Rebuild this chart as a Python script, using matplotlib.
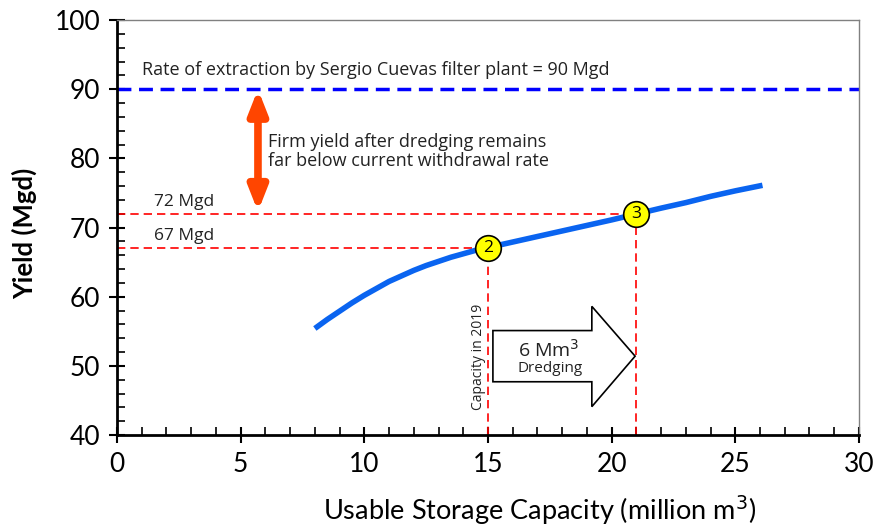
import matplotlib
matplotlib.use("Agg")
import matplotlib.pyplot as plt
from matplotlib.patches import Polygon
from matplotlib.ticker import MultipleLocator

# yield curve
storage = [8, 8.5, 9, 9.5, 10, 10.5, 11, 11.5, 12, 12.5, 13, 13.5, 14, 14.5, 15,
           16, 17, 18, 19, 20, 21, 22, 23, 24, 25, 26.1]
yield_mgd = [55.4, 56.7, 57.9, 59.1, 60.2, 61.2, 62.2, 63.0, 63.8, 64.5, 65.1, 65.7, 66.2, 66.7, 67.1,
             67.9, 68.7, 69.5, 70.3, 71.1, 71.95, 72.8, 73.6, 74.5, 75.3, 76.1]

points_x = [15, 21]
points_y = [67, 72]
point_labels = ["2", "3"]

extraction_rate = 90

plt.rcParams['font.family'] = ['Lato', 'DejaVu Sans']
note_font = ['Open Sans', 'DejaVu Sans']
text_color = '#222222'

fig = plt.figure(figsize=(8.77, 5.25), dpi=100)
ax = fig.add_axes([0.1334, 0.1714, 0.846, 0.7905])

ax.set_xlim(0, 30)
ax.set_ylim(40, 100)

# extraction rate line
ax.axhline(extraction_rate, color='#0000ff', lw=2.5, ls=(0, (4, 2.2)), zorder=2)
ax.text(1, extraction_rate + 1.4, "Rate of extraction by Sergio Cuevas filter plant = 90 Mgd",
        fontsize=13, family=note_font, color=text_color, va='bottom')

# red reference lines
for px, py in zip(points_x, points_y):
    ax.plot([0, px], [py, py], color='red', lw=1.2, ls=(0, (5, 3)), zorder=2)
    ax.plot([px, px], [40, py], color='red', lw=1.2, ls=(0, (5, 3)), zorder=2)
ax.text(1.5, points_y[1] + 0.6, "72 Mgd", fontsize=12.5, family=note_font, color=text_color, va='bottom')
ax.text(1.5, points_y[0] + 0.6, "67 Mgd", fontsize=12.5, family=note_font, color=text_color, va='bottom')

# curve
ax.plot(storage, yield_mgd, color='#0a64f0', lw=4, solid_capstyle='butt',
        solid_joinstyle='round', zorder=3)

# numbered points
ax.scatter(points_x, points_y, s=340, color='#ffff00', edgecolor='black', lw=1.2, zorder=4)
for px, py, lab in zip(points_x, points_y, point_labels):
    ax.text(px, py, lab, ha='center', va='center', fontsize=12.5, family=note_font, zorder=5)

# double arrow
ax.annotate("", xy=(5.7, 90), xytext=(5.7, 72.3),
            arrowprops=dict(arrowstyle='<|-|>,head_length=1.4,head_width=0.55',
                            color='#ff4500', lw=5.5, shrinkA=0, shrinkB=0), zorder=4)
ax.text(6.1, 81, "Firm yield after dredging remains\nfar below current withdrawal rate",
        fontsize=13, family=note_font, color=text_color, va='center', linespacing=1.05)

# capacity label
ax.text(14.6, 51.3, "Capacity in 2019", rotation=90, ha='center', va='center',
        fontsize=10, family=note_font, color=text_color)

# dredging arrow
arrow_x = [15.2, 19.2, 19.2, 20.95, 19.2, 19.2, 15.2]
arrow_y = [55.1, 55.1, 58.6, 51.4, 44.1, 47.7, 47.7]
ax.add_patch(Polygon(list(zip(arrow_x, arrow_y)), closed=True, facecolor='white',
                     edgecolor='black', lw=1.2, zorder=3))
ax.text(16.2, 52.3, "6 Mm$^3$", fontsize=14, family=note_font, color=text_color, zorder=4, va='center')
ax.text(16.2, 49.6, "Dredging", fontsize=11, family=note_font, color=text_color, zorder=4, va='center')

# axes styling
ax.xaxis.set_major_locator(MultipleLocator(5))
ax.xaxis.set_minor_locator(MultipleLocator(1))
ax.yaxis.set_major_locator(MultipleLocator(10))
ax.yaxis.set_minor_locator(MultipleLocator(2))
ax.tick_params(which='major', direction='inout', length=12, width=1.5, labelsize=19, pad=6)
ax.tick_params(which='minor', direction='in', length=6, width=1.2)
for s in ['left', 'bottom']:
    ax.spines[s].set_linewidth(2)
for s in ['top', 'right']:
    ax.spines[s].set_color('#808080')
    ax.spines[s].set_linewidth(1)

ax.set_xlabel("Usable Storage Capacity (million m$^3$)", fontsize=19.5)
ax.xaxis.set_label_coords(0.57, -0.14)
ax.set_ylabel("Yield (Mgd)", fontsize=18.5, fontweight='bold')
ax.yaxis.set_label_coords(-0.108, 0.487)

fig.savefig("out.png", dpi=100)
